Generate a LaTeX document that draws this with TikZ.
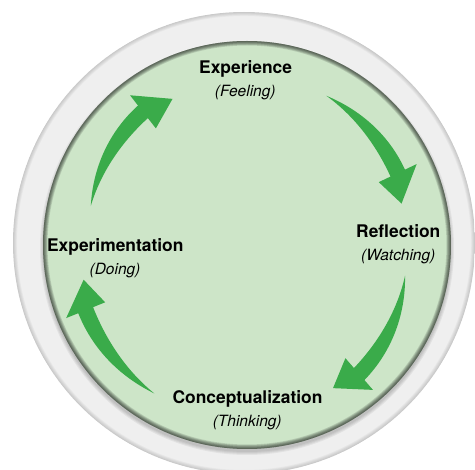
\documentclass[tikz,border=0pt]{standalone}
\usepackage{fontspec}
\setmainfont{TeX Gyre Heros}
\definecolor{ringgray}{HTML}{EFEFEF}
\definecolor{bggreen}{HTML}{CDE5C8}
\definecolor{arrowgreen}{HTML}{3AAB4A}
\tikzset{
  lbl/.style={font=\fontsize{17.4}{20}\selectfont\bfseries, inner sep=0pt, anchor=base},
  sublbl/.style={font=\fontsize{15.5}{18}\selectfont\itshape, inner sep=0pt, anchor=base},
  cyc/.style={fill=arrowgreen},
}
% #1 tail angle, #2 base angle, #3 tip angle, #4 tail radius, #5 base radius, #6 tip radius
\newcommand{\cyclearrow}[6]{%
  \fill[cyc] plot[domain=0:1, samples=40, variable=\t]
      ({#1+(#2-#1)*\t}:{#4+(#5-#4)*\t+8*sin(90*\t)})
    -- ({#2}:{#5+21}) -- ({#3}:{#6}) -- ({#2}:{#5-21})
    -- plot[domain=1:0, samples=40, variable=\t]
      ({#1+(#2-#1)*\t}:{#4+(#5-#4)*\t-8*sin(90*\t)})
    -- cycle;}
\begin{document}
\begin{tikzpicture}[x=1pt,y=1pt]
\useasboundingbox (0,0) rectangle (475,-470);
\clip (0,0) rectangle (475,-470);
\fill[white] (0,0) rectangle (475,-470);
% outer ring
\fill[ringgray] (244,-243) circle (231pt);
\begin{scope}
  \clip (244,-243) circle (231pt);
  \foreach \i in {1,...,5}
    \draw[black, opacity=0.03, line width={\i*1.6pt}] (244,-243) circle (231pt);
\end{scope}
% shadow of green disc
\foreach \i in {1,...,4}
  \fill[black, opacity=0.05] (247,-248) circle ({203pt+\i*1pt});
% green disc
\fill[bggreen] (247,-245) circle (204pt);
\begin{scope}
  \clip (247,-245) circle (204pt);
  \foreach \i in {1,...,6}
    \draw[black, opacity=0.12, line width={\i*1.5pt}] (247,-245) circle (204pt);
\end{scope}
% arrows
\begin{scope}[shift={(247,-245)}]
  \cyclearrow{62}{25.5}{15}{169}{167}{160}
  \cyclearrow{-11}{-49}{-59}{161}{171}{167}
  \cyclearrow{238}{202}{192}{175}{174}{167}
  \cyclearrow{166}{128}{117}{161}{169}{164}
\end{scope}
% labels
\node[lbl] (exp) at (245.6,-74) {Experience};
\node[sublbl] (expsub) at (245.3,-96.7) {(Feeling)};
\node[lbl] (refl) at (398.3,-237.3) {Reflection};
\node[sublbl] (reflsub) at (398.3,-261) {(Watching)};
\node[lbl] (conc) at (247.5,-403.3) {Conceptualization};
\node[sublbl] (concsub) at (247.2,-426.7) {(Thinking)};
\node[lbl] (expt) at (115.3,-251.7) {Experimentation};
\node[sublbl] (exptsub) at (115,-275) {(Doing)};
\end{tikzpicture}
\end{document}
